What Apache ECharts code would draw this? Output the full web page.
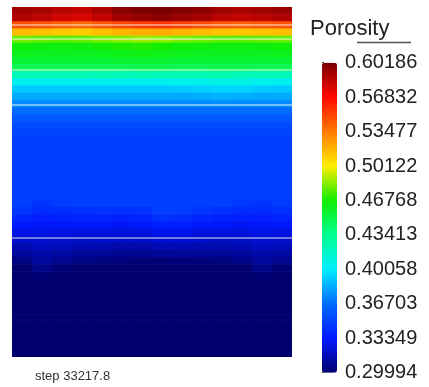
<!DOCTYPE html>
<html>
<head>
<meta charset="utf-8">
<script src="https://cdn.jsdelivr.net/npm/echarts@6/dist/echarts.min.js"></script>
<style>
  html, body { margin: 0; padding: 0; background: #fff; }
  #chart { width: 429px; height: 387px; }
</style>
</head>
<body>
<div id="chart"></div>
<script>
// porosity field, rows top -> bottom, 14 columns left -> right
const porosity = [
  [0.592,0.590,0.586,0.584,0.590,0.597,0.600,0.601,0.599,0.596,0.592,0.590,0.592,0.594],
  [0.588,0.585,0.580,0.578,0.584,0.592,0.595,0.597,0.594,0.590,0.586,0.584,0.586,0.588],
  [0.548,0.546,0.542,0.540,0.545,0.550,0.553,0.555,0.552,0.548,0.545,0.543,0.545,0.547],
  [0.516,0.514,0.512,0.511,0.515,0.518,0.520,0.521,0.518,0.516,0.514,0.513,0.514,0.515],
  [0.481,0.479,0.478,0.479,0.482,0.484,0.486,0.485,0.482,0.480,0.478,0.478,0.479,0.480],
  [0.466,0.465,0.464,0.465,0.467,0.469,0.470,0.468,0.466,0.465,0.464,0.464,0.465,0.466],
  [0.461,0.460,0.460,0.460,0.461,0.462,0.463,0.462,0.461,0.460,0.460,0.460,0.460,0.461],
  [0.455,0.455,0.455,0.455,0.455,0.456,0.456,0.456,0.455,0.455,0.455,0.455,0.455,0.455],
  [0.448,0.448,0.448,0.448,0.448,0.448,0.449,0.449,0.448,0.448,0.449,0.449,0.448,0.448],
  [0.422,0.422,0.422,0.423,0.423,0.423,0.423,0.423,0.423,0.424,0.425,0.423,0.422,0.422],
  [0.405,0.405,0.405,0.405,0.405,0.405,0.405,0.405,0.406,0.407,0.408,0.408,0.406,0.405],
  [0.391,0.391,0.391,0.391,0.391,0.391,0.391,0.391,0.392,0.393,0.394,0.394,0.392,0.391],
  [0.383,0.383,0.383,0.383,0.383,0.383,0.383,0.383,0.383,0.384,0.385,0.384,0.383,0.383],
  [0.375,0.375,0.375,0.375,0.375,0.375,0.375,0.375,0.375,0.375,0.376,0.375,0.375,0.375],
  [0.367,0.367,0.367,0.367,0.367,0.367,0.367,0.367,0.367,0.367,0.367,0.367,0.367,0.367],
  [0.360,0.360,0.360,0.360,0.360,0.360,0.360,0.360,0.360,0.360,0.360,0.360,0.360,0.360],
  [0.354,0.354,0.354,0.354,0.354,0.354,0.354,0.354,0.354,0.354,0.354,0.354,0.354,0.354],
  [0.351,0.351,0.351,0.351,0.351,0.351,0.351,0.351,0.351,0.351,0.351,0.351,0.351,0.351],
  [0.349,0.349,0.349,0.349,0.349,0.349,0.349,0.349,0.349,0.349,0.349,0.349,0.349,0.349],
  [0.349,0.349,0.349,0.349,0.349,0.349,0.349,0.349,0.349,0.349,0.349,0.349,0.349,0.349],
  [0.349,0.349,0.349,0.349,0.349,0.349,0.349,0.349,0.349,0.349,0.349,0.349,0.349,0.349],
  [0.349,0.349,0.349,0.349,0.349,0.349,0.349,0.349,0.349,0.349,0.349,0.349,0.349,0.349],
  [0.349,0.349,0.349,0.349,0.349,0.349,0.349,0.349,0.349,0.349,0.349,0.349,0.349,0.349],
  [0.349,0.349,0.349,0.349,0.349,0.349,0.349,0.349,0.349,0.349,0.349,0.349,0.349,0.349],
  [0.349,0.349,0.349,0.349,0.349,0.349,0.349,0.349,0.349,0.349,0.349,0.349,0.349,0.349],
  [0.349,0.349,0.349,0.349,0.349,0.349,0.349,0.349,0.349,0.349,0.349,0.349,0.349,0.349],
  [0.349,0.349,0.349,0.349,0.349,0.349,0.349,0.349,0.349,0.349,0.349,0.349,0.349,0.349],
  [0.349,0.345,0.347,0.349,0.349,0.349,0.349,0.349,0.349,0.349,0.349,0.346,0.345,0.348],
  [0.345,0.341,0.342,0.343,0.344,0.343,0.344,0.349,0.349,0.345,0.343,0.341,0.341,0.343],
  [0.339,0.336,0.337,0.338,0.338,0.337,0.338,0.343,0.342,0.339,0.337,0.336,0.336,0.338],
  [0.333,0.332,0.332,0.332,0.332,0.331,0.332,0.336,0.336,0.333,0.332,0.331,0.332,0.333],
  [0.328,0.328,0.327,0.327,0.327,0.326,0.326,0.329,0.329,0.327,0.326,0.326,0.328,0.327],
  [0.322,0.323,0.322,0.321,0.321,0.320,0.320,0.323,0.323,0.321,0.320,0.321,0.323,0.322],
  [0.316,0.319,0.317,0.316,0.315,0.314,0.314,0.316,0.316,0.315,0.315,0.316,0.319,0.317],
  [0.311,0.314,0.312,0.310,0.309,0.308,0.308,0.309,0.310,0.309,0.309,0.311,0.314,0.312],
  [0.305,0.310,0.307,0.305,0.304,0.303,0.302,0.302,0.303,0.303,0.304,0.306,0.310,0.307],
  [0.300,0.306,0.302,0.300,0.300,0.300,0.300,0.300,0.300,0.300,0.300,0.300,0.306,0.302],
  [0.300,0.301,0.300,0.300,0.300,0.300,0.300,0.300,0.300,0.300,0.300,0.300,0.301,0.300],
  [0.300,0.300,0.300,0.300,0.300,0.300,0.300,0.300,0.300,0.300,0.300,0.300,0.300,0.300],
  [0.300,0.300,0.300,0.300,0.300,0.300,0.300,0.300,0.300,0.300,0.300,0.300,0.300,0.300],
  [0.300,0.300,0.300,0.300,0.300,0.300,0.300,0.300,0.300,0.300,0.300,0.300,0.300,0.300],
  [0.300,0.300,0.300,0.300,0.300,0.300,0.300,0.300,0.300,0.300,0.300,0.300,0.300,0.300],
  [0.300,0.300,0.300,0.300,0.300,0.300,0.300,0.300,0.300,0.300,0.300,0.300,0.300,0.300],
  [0.300,0.300,0.300,0.300,0.300,0.300,0.300,0.300,0.300,0.300,0.300,0.300,0.300,0.300],
  [0.300,0.300,0.300,0.300,0.300,0.300,0.300,0.300,0.300,0.300,0.300,0.300,0.300,0.300],
  [0.300,0.300,0.300,0.300,0.300,0.300,0.300,0.300,0.300,0.300,0.300,0.300,0.300,0.300],
  [0.300,0.300,0.300,0.300,0.300,0.300,0.300,0.300,0.300,0.300,0.300,0.300,0.300,0.300],
  [0.300,0.300,0.300,0.300,0.300,0.300,0.300,0.300,0.300,0.300,0.300,0.300,0.300,0.300],
  [0.300,0.300,0.300,0.300,0.300,0.300,0.300,0.300,0.300,0.300,0.300,0.300,0.300,0.300]
];

// mesh layer interfaces, as fraction of depth from the top
const layerTops = [0.0466, 0.0866, 0.182, 0.278, 0.661];

// colour bar
const colorMin = 0.29994;
const colorMax = 0.60186;
const colorTicks = ['0.60186', '0.56832', '0.53477', '0.50122', '0.46768',
                    '0.43413', '0.40058', '0.36703', '0.33349', '0.29994'];
const colorStops = ['#00006e', '#0018ff', '#006cff', '#00eeff', '#00ff90',
                    '#10ee00', '#ffee00', '#ff7a00', '#ff0800', '#7a0000'];

const cols = porosity[0].map((_, i) => i);
const rows = porosity.map((_, i) => i);
const cells = [];
porosity.forEach((row, r) => row.forEach((v, c) => cells.push([c, r, v])));

const chart = echarts.init(document.getElementById('chart'), null, { renderer: 'canvas' });

const font = 'Liberation Sans, Arial, sans-serif';

// cells are drawn with a small overlap so that no seams show between them
function renderCell(params, api) {
  const p = api.coord([api.value(0), api.value(1)]);
  const s = api.size([1, 1]);
  return {
    type: 'rect',
    shape: { x: p[0] - s[0] / 2, y: p[1] - s[1] / 2, width: s[0] + 0.6, height: s[1] + 0.6 },
    style: { fill: api.visual('color') }
  };
}

chart.setOption({
  animation: false,
  backgroundColor: '#fff',
  title: [
    {
      text: 'Porosity',
      left: 310, top: 18, padding: 0,
      textStyle: { fontFamily: font, fontSize: 22, fontWeight: 'normal', color: '#222' }
    },
    {
      text: 'step 33217.8',
      left: 35, top: 370, padding: 0,
      textStyle: { fontFamily: font, fontSize: 13, fontWeight: 'normal', color: '#333' }
    }
  ],
  // short rule under the title, as in the original legend
  graphic: [
    {
      type: 'line',
      shape: { x1: 357, y1: 42.5, x2: 411, y2: 42.5 },
      style: { stroke: '#555', lineWidth: 1.5 },
      silent: true
    }
  ],
  grid: [
    { left: 12, top: 7, width: 280, height: 350 },
    { left: 322, top: 62.7, width: 15, height: 310 }
  ],
  xAxis: [
    { type: 'category', gridIndex: 0, data: cols, show: false },
    { type: 'value', gridIndex: 1, show: false }
  ],
  yAxis: [
    { type: 'category', gridIndex: 0, data: rows, inverse: true, show: false },
    { type: 'value', gridIndex: 0, min: 0, max: 1, inverse: true, show: false },
    {
      type: 'value', gridIndex: 1, min: 0, max: 9, interval: 1, inverse: true,
      position: 'right',
      axisLine: { show: false },
      splitLine: { show: false },
      axisTick: { show: true, length: 2, lineStyle: { color: '#444' } },
      axisLabel: {
        margin: 8,
        fontFamily: font, fontSize: 20, color: '#222',
        formatter: (v) => colorTicks[v]
      }
    }
  ],
  visualMap: {
    type: 'continuous',
    seriesIndex: 0,
    dimension: 2,
    min: colorMin,
    max: colorMax,
    calculable: false,
    orient: 'vertical',
    left: 322,
    top: 62.7,
    padding: 0,
    itemWidth: 15,
    itemHeight: 310,
    text: null,
    inRange: { color: colorStops }
  },
  series: [
    {
      type: 'custom',
      xAxisIndex: 0,
      yAxisIndex: 0,
      data: cells,
      encode: { x: 0, y: 1 },
      clip: true,
      silent: true,
      renderItem: renderCell
    },
    {
      type: 'line',
      xAxisIndex: 0,
      yAxisIndex: 1,
      data: [],
      silent: true,
      markLine: {
        silent: true,
        symbol: 'none',
        label: { show: false },
        lineStyle: { color: 'rgba(255,255,255,0.6)', width: 1.5, type: 'solid' },
        data: layerTops.map((v) => ({ yAxis: v }))
      }
    }
  ]
});
</script>
</body>
</html>
